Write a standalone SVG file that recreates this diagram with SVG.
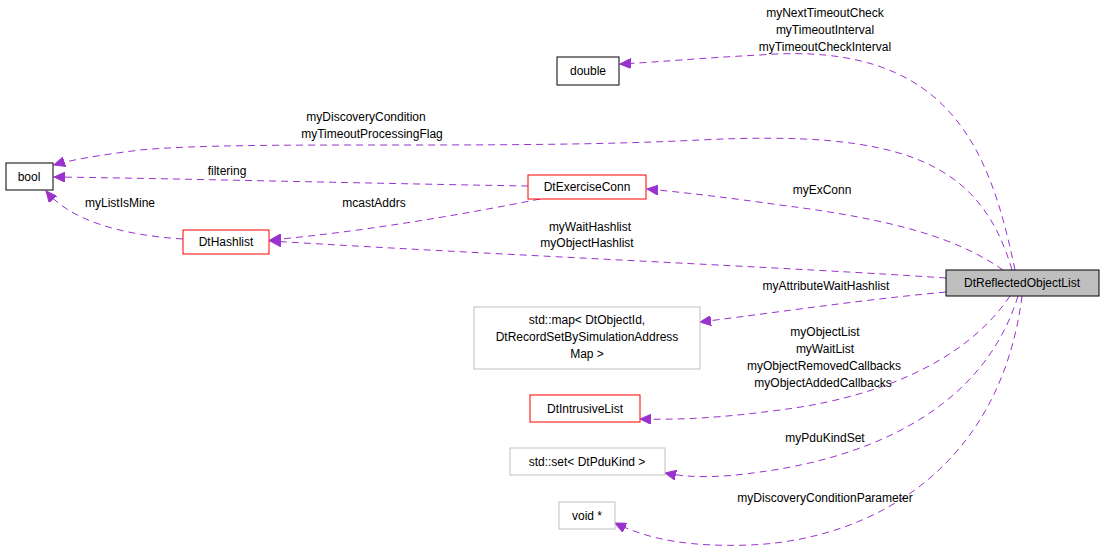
<svg xmlns="http://www.w3.org/2000/svg" width="1104" height="553" viewBox="0 0 1104 553">
<style>
text{font-family:"Liberation Sans",Arial,sans-serif;font-size:12px;fill:#000}
.n{fill:#fff;stroke:#000;stroke-width:1}
.r{fill:#fff;stroke:#ff0000;stroke-width:1}
.g{fill:#fff;stroke:#bfbfbf;stroke-width:1}
.e{fill:none;stroke:#9a32cd;stroke-width:1;stroke-dasharray:7,5}
.m{text-anchor:middle}
</style>
<defs>
<marker id="a" markerWidth="12" markerHeight="10" refX="11" refY="5" orient="auto" markerUnits="userSpaceOnUse">
<path d="M0,0 L11,5 L0,10 Z" fill="#9a32cd" stroke="#9a32cd"/>
</marker>
</defs>
<g id="connectors">
<path class="e" marker-end="url(#a)" d="M1015,270 C990,150 950,40 760,55 C700,58 660,62 620,64"/>
<path class="e" marker-end="url(#a)" d="M1012,270 C980,160 900,130 700,140 C500,150 250,140 140,150 C100,155 70,160 54,165"/>
<path class="e" marker-end="url(#a)" d="M528,186 C400,184 150,178 54,177"/>
<path class="e" marker-end="url(#a)" d="M1003,270 C960,240 900,220 780,205 C730,198 690,193 647,189"/>
<path class="e" marker-end="url(#a)" d="M540,199 C460,215 360,232 270,240"/>
<path class="e" marker-end="url(#a)" d="M183,239 C120,235 70,220 46,191"/>
<path class="e" marker-end="url(#a)" d="M946,278 C800,268 500,255 270,241"/>
<path class="e" marker-end="url(#a)" d="M946,292 C860,300 780,312 700,322"/>
<path class="e" marker-end="url(#a)" d="M1010,296 C960,370 860,400 780,410 C720,418 680,420 640,419"/>
<path class="e" marker-end="url(#a)" d="M1018,296 C980,420 850,460 760,472 C720,478 690,478 665,473"/>
<path class="e" marker-end="url(#a)" d="M1022,296 C1000,470 870,540 750,545 C690,547 650,540 615,523"/>
</g>
<g id="n_double"><rect class="n" x="557" y="57" width="62" height="28"/><text class="m" x="588" y="75">double</text></g>
<g id="n_bool"><rect class="n" x="6" y="163" width="47" height="27"/><text class="m" x="29" y="181">bool</text></g>
<g id="n_exconn"><rect class="r" x="528" y="175" width="118" height="24"/><text class="m" x="587" y="191">DtExerciseConn</text></g>
<g id="n_hashlist"><rect class="r" x="183" y="230" width="86" height="24"/><text class="m" x="226" y="246">DtHashlist</text></g>
<g id="n_rol"><rect x="946" y="270" width="153" height="26" fill="#bfbfbf" stroke="#000"/><text class="m" x="1022" y="287">DtReflectedObjectList</text></g>
<g id="n_map"><rect class="g" x="474" y="307" width="226" height="62"/><text class="m" x="587" y="324">std::map&lt; DtObjectId,</text><text class="m" x="587" y="341">DtRecordSetBySimulationAddress</text><text class="m" x="587" y="358">Map &gt;</text></g>
<g id="n_intr"><rect class="r" x="530" y="395" width="110" height="27"/><text class="m" x="585" y="413">DtIntrusiveList</text></g>
<g id="n_set"><rect class="g" x="510" y="448" width="155" height="27"/><text class="m" x="587" y="466">std::set&lt; DtPduKind &gt;</text></g>
<g id="n_void"><rect class="g" x="559" y="502" width="56" height="27"/><text class="m" x="587" y="520">void *</text></g>
<g id="labels">
<text class="m" x="825" y="17">myNextTimeoutCheck</text>
<text class="m" x="825" y="34">myTimeoutInterval</text>
<text class="m" x="825" y="51">myTimeoutCheckInterval</text>
<text class="m" x="366" y="121">myDiscoveryCondition</text>
<text class="m" x="372" y="138">myTimeoutProcessingFlag</text>
<text class="m" x="227" y="175">filtering</text>
<text class="m" x="822" y="194">myExConn</text>
<text class="m" x="120" y="207">myListIsMine</text>
<text class="m" x="374" y="207">mcastAddrs</text>
<text class="m" x="590" y="231">myWaitHashlist</text>
<text class="m" x="587" y="247">myObjectHashlist</text>
<text class="m" x="826" y="290">myAttributeWaitHashlist</text>
<text class="m" x="825" y="336">myObjectList</text>
<text class="m" x="825" y="353">myWaitList</text>
<text class="m" x="824" y="370">myObjectRemovedCallbacks</text>
<text class="m" x="823" y="387">myObjectAddedCallbacks</text>
<text class="m" x="825" y="442">myPduKindSet</text>
<text class="m" x="825" y="502">myDiscoveryConditionParameter</text>
</g>
</svg>
